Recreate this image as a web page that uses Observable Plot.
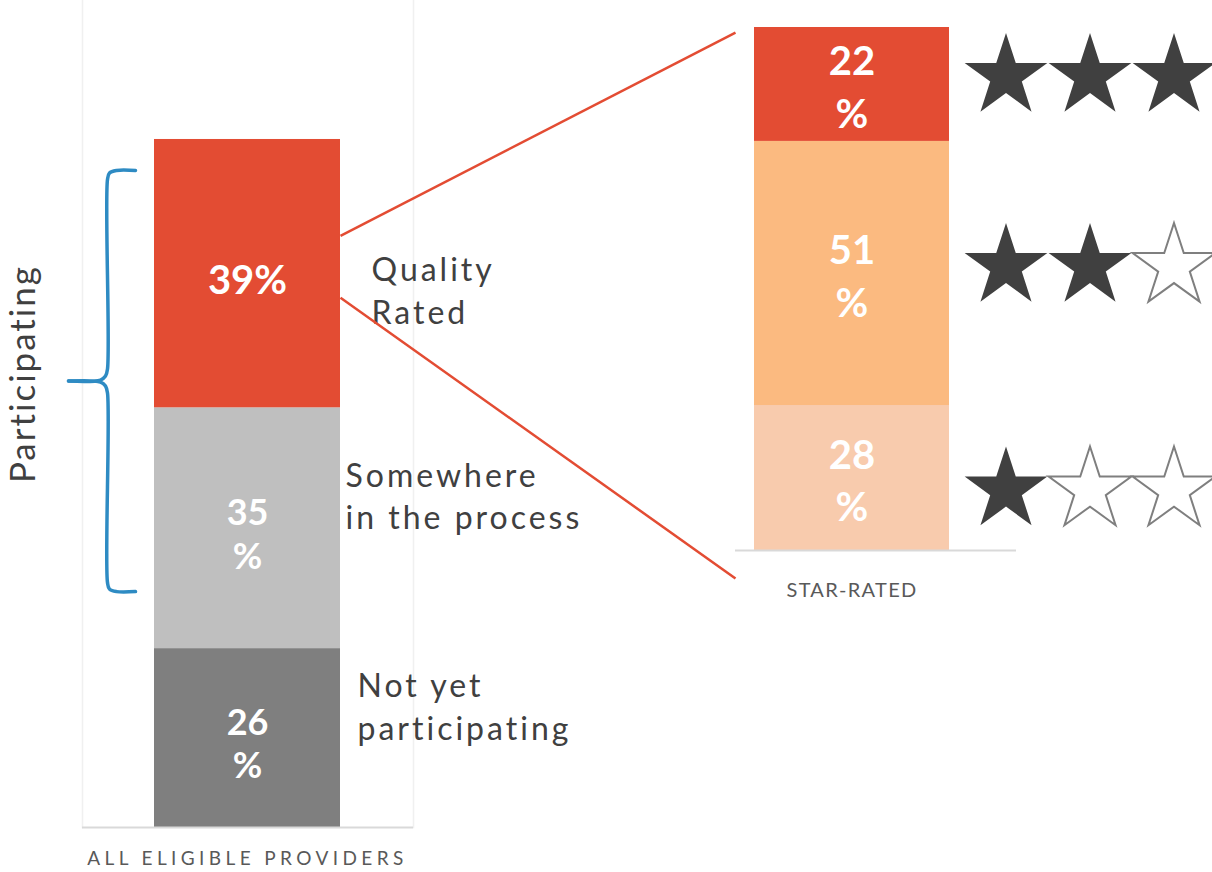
<!DOCTYPE html>
<html><head><meta charset="utf-8">
<script src="https://cdn.jsdelivr.net/npm/d3@7"></script>
<script src="https://cdn.jsdelivr.net/npm/@observablehq/plot@0.6"></script>
<style>
html,body{margin:0;padding:0;background:#fff;}
#chart{position:relative;width:1212px;height:872px;overflow:hidden;}
#chart svg{position:absolute;left:0;top:0;}
text[aria-label="category-label"], text[aria-label="category-label"] tspan{letter-spacing:3px;}
text[aria-label="participating-label"]{letter-spacing:2px;}
</style></head><body><div id="chart"></div>
<script>
// ---- data ----
const leftGroup = "ALL ELIGIBLE PROVIDERS";
const leftCategories = ["Not yet participating", "Somewhere in the process", "Quality Rated"];
const leftValues = [26, 35, 39];
const leftValueLabels = ["26\n%", "35\n%", "39%"];
const leftCategoryLabels = ["Not yet\nparticipating", "Somewhere\nin the process", "Quality\nRated"];
const leftColors = ["#7f7f7f", "#bfbfbf", "#e34c33"];

const rightGroup = "STAR-RATED";
const rightCategories = ["1 star", "2 stars", "3 stars"];
const rightValues = [28, 51, 22];
const rightValueLabels = ["28\n%", "51\n%", "22\n%"];
const rightStars = [1, 2, 3];
const rightColors = ["#f8cbad", "#fbba80", "#e34c33"];

const participatingLabel = "Participating";
const participatingRange = [26, 100];     // share of all eligible providers
const connectorLeftLevels = [86, 77];     // on the left bar (percent)
const connectorRightLevels = [100, -5.4]; // on the right bar (percent)

// ---- layout / style ----
const W = 1212, H = 872;
const font = "Lato, 'Open Sans', sans-serif";
const textDark = "#404040";

function stackMids(values) {
  let acc = 0;
  return values.map(v => { const lo = acc; acc += v; return (lo + acc) / 2; });
}

const leftMids = stackMids(leftValues);
const leftData = leftCategories.map((c, i) => ({
  group: leftGroup, category: c, value: leftValues[i],
  label: leftValueLabels[i], name: leftCategoryLabels[i], mid: leftMids[i]
}));
const leftNameOffsets = [{dx: 110, dy: -33}, {dx: 98, dy: -34}, {dx: 124, dy: 15}];

const rightMids = stackMids(rightValues);
const rightData = rightCategories.map((c, i) => ({
  group: rightGroup, category: c, value: rightValues[i],
  label: rightValueLabels[i], stars: rightStars[i], mid: rightMids[i]
}));
const starNudge = [12, -7, -8];

const plotA = Plot.plot({
  width: W, height: H,
  marginLeft: 82, marginRight: 799, marginTop: 0, marginBottom: 45,
  style: {fontFamily: font, background: "transparent"},
  x: {type: "band", domain: [leftGroup], padding: 0.279, label: null},
  y: {domain: [0, 120.2], axis: null},
  color: {domain: leftCategories, range: leftColors},
  marks: [
    Plot.frame({anchor: "left", stroke: "#f0f0f0", strokeWidth: 1.5}),
    Plot.frame({anchor: "right", stroke: "#f0f0f0", strokeWidth: 1.5}),
    Plot.barY(leftData, {x: "group", y: "value", fill: "category"}),
    Plot.ruleY([0], {stroke: "#d9d9d9", strokeWidth: 2}),
    Plot.text(leftData, {x: "group", y: "mid", text: "label", fill: "white", dy: 5,
      fontSize: d => d.label.includes("\n") ? 36 : 40, fontWeight: "bold", lineHeight: 1.2}),
    ...leftData.map((d, i) => Plot.text([d], {x: "group", y: "mid", text: "name",
      textAnchor: "start", dx: leftNameOffsets[i].dx, dy: leftNameOffsets[i].dy,
      fontSize: 32, fill: textDark, lineHeight: 1.34, ariaLabel: () => "category-label"})),
    Plot.axisX({tickSize: 0, tickPadding: 24, fontSize: 19, color: "#595959", fill: "#595959"})
  ]
});

const starMarks = [];
rightData.forEach((d, r) => {
  for (let c = 0; c < 3; c++) {
    const on = d.stars > c;
    starMarks.push(Plot.dot([d], {x: "group", y: "mid", dx: 154 + 84 * c, dy: starNudge[r],
      symbol: "star", r: 26, fill: on ? "#404040" : "white",
      stroke: on ? "none" : "#7f7f7f", strokeWidth: 2}));
  }
});

const plotB = Plot.plot({
  width: W, height: H,
  marginLeft: 735, marginRight: 196, marginTop: 27, marginBottom: 322,
  style: {fontFamily: font, background: "transparent"},
  x: {type: "band", domain: [rightGroup], paddingInner: 0, paddingOuter: 0.2205, align: 0.221, label: null},
  y: {domain: [0, 101], axis: null},
  color: {domain: rightCategories, range: rightColors},
  marks: [
    Plot.barY(rightData, {x: "group", y: "value", fill: "category"}),
    Plot.ruleY([0], {stroke: "#d9d9d9", strokeWidth: 2}),
    Plot.text(rightData, {x: "group", y: "mid", text: "label", fill: "white",
      fontSize: 40, fontWeight: "bold", lineHeight: 1.32}),
    ...starMarks,
    Plot.axisX({tickSize: 0, tickPadding: 32, fontSize: 20, color: "#595959", fill: "#595959"})
  ]
});

// overlay: connectors and brace, positioned from the bars' own scales
const yA = plotA.scale("y"), yB = plotB.scale("y"), xA = plotA.scale("x"), xB = plotB.scale("x");
const leftEdge = xA.apply(leftGroup) + xA.bandwidth;
const rightStart = xB.range[0];
const connectors = connectorLeftLevels.map((l, i) => ({
  x1: leftEdge, y1: yA.apply(l), x2: rightStart, y2: yB.apply(connectorRightLevels[i])
}));

const bTop = yA.apply(participatingRange[1]) + 31;
const bBot = yA.apply(participatingRange[0]) - 57;
const bMid = (bTop + bBot) / 2;
const braceX = xA.range[0] + 25, tipX = xA.range[0] - 14, hookX = braceX + 28;
const brace = [
  [hookX, bTop], [braceX + 9, bTop], [braceX + 2, bTop + 2.5], [braceX, bTop + 9], [braceX, bMid - 12],
  [braceX - 2, bMid - 5], [braceX - 7, bMid - 1], [tipX, bMid]
].map(([x, y]) => ({x, y, part: "upper"})).concat([
  [tipX, bMid], [braceX - 7, bMid + 1], [braceX - 2, bMid + 5], [braceX, bMid + 12], [braceX, bBot - 9],
  [braceX + 2, bBot - 2.5], [braceX + 9, bBot], [hookX, bBot]
].map(([x, y]) => ({x, y, part: "lower"})));

const plotC = Plot.plot({
  width: W, height: H, margin: 0,
  style: {fontFamily: font, background: "transparent"},
  x: {type: "identity", axis: null},
  y: {type: "identity", axis: null},
  marks: [
    Plot.link(connectors, {x1: "x1", y1: "y1", x2: "x2", y2: "y2", stroke: "#e34c33", strokeWidth: 2.5}),
    Plot.line(brace, {x: "x", y: "y", z: "part", curve: "catmull-rom", stroke: "#2e8bc3", strokeWidth: 3.5}),
    Plot.text([participatingLabel], {x: tipX - 45, y: bMid - 7, text: d => d, rotate: -90,
      fontSize: 35, fill: textDark, ariaLabel: () => "participating-label"})
  ]
});

plotA.querySelectorAll('g[aria-label="x-axis tick label"] text').forEach(t => { t.style.letterSpacing = "4.4px"; t.style.fontSize = "19px"; t.setAttribute("fill", "#595959"); });
plotB.querySelectorAll('g[aria-label="x-axis tick label"] text').forEach(t => { t.style.letterSpacing = "1.3px"; t.style.fontSize = "20px"; t.setAttribute("fill", "#595959"); });

const chart = document.getElementById("chart");
chart.append(plotA, plotB, plotC);
</script>
</body></html>
